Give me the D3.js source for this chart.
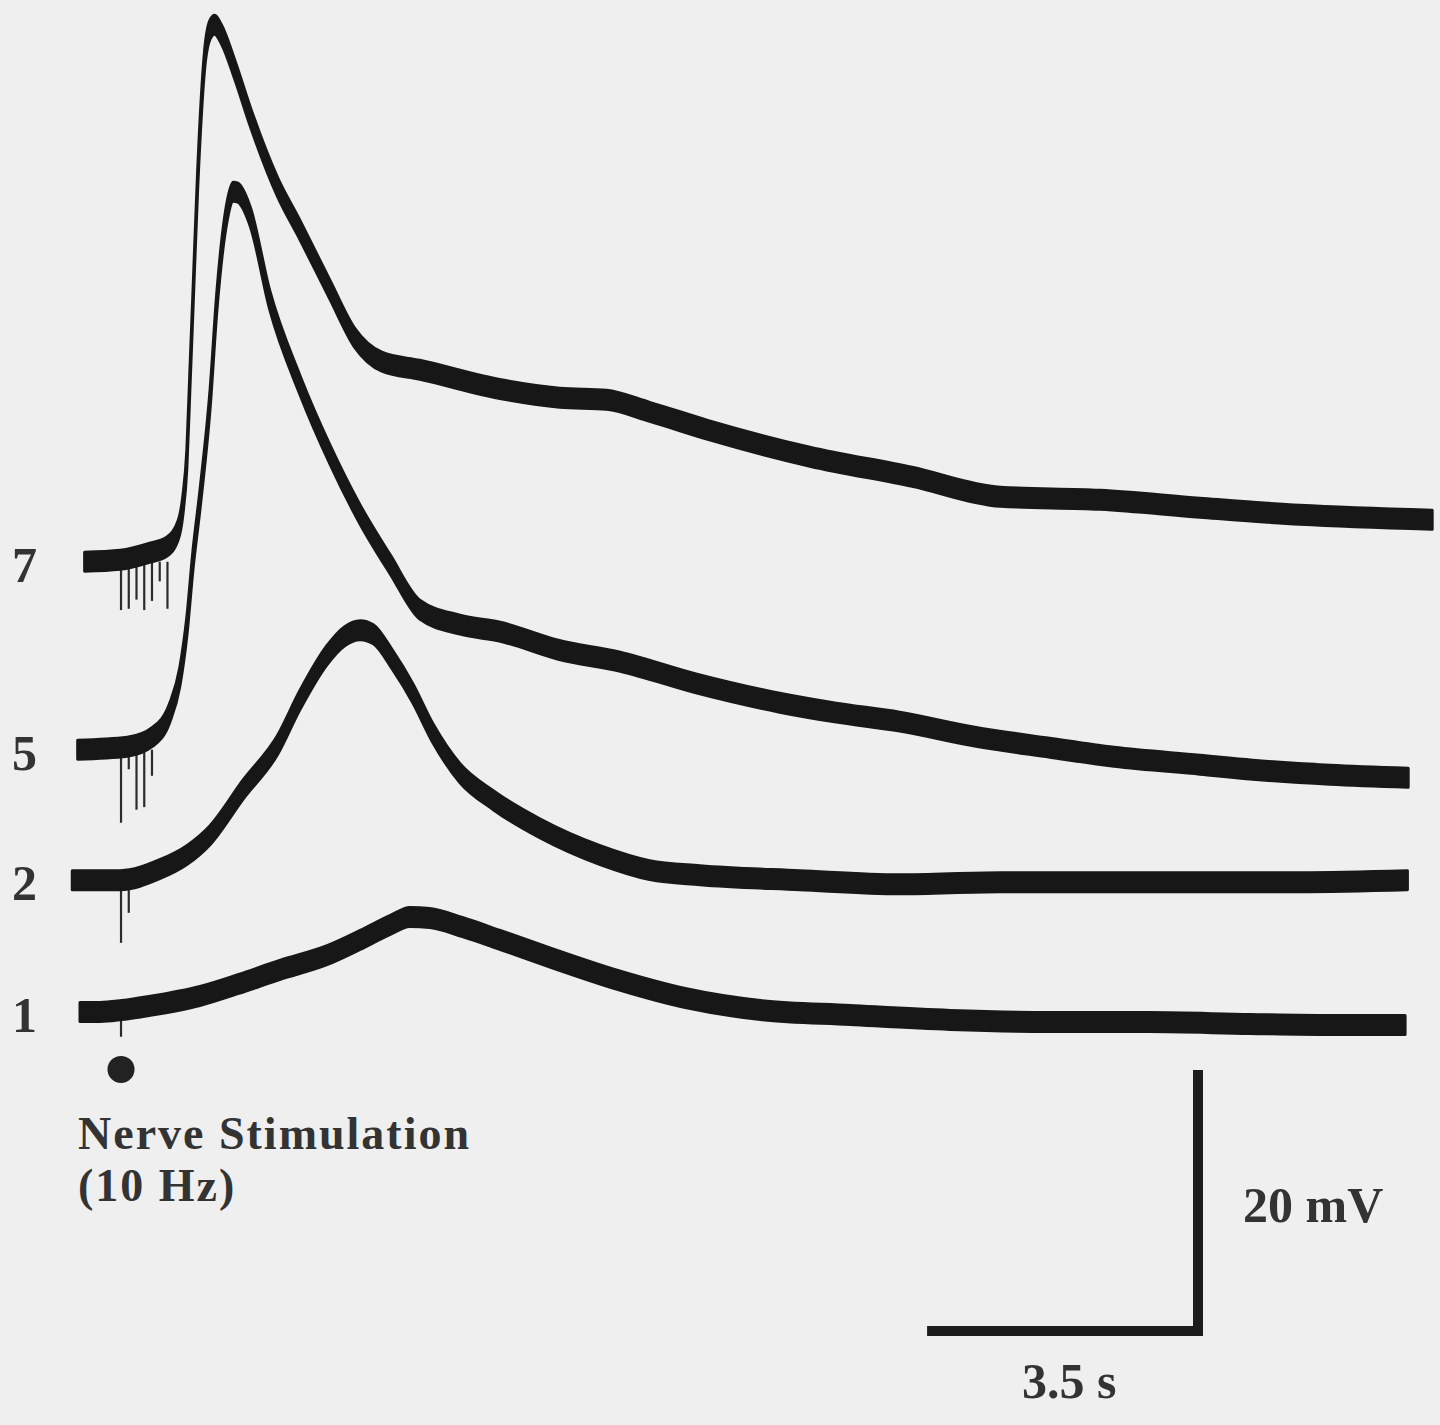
<!DOCTYPE html>
<html>
<head>
<meta charset="utf-8">
<script src="https://cdn.jsdelivr.net/npm/d3@7"></script>
<style>
  html, body { margin: 0; padding: 0; background: #efefef; }
  svg { display: block; }
</style>
</head>
<body>
<svg id="chart" width="1440" height="1425"></svg>
<script>
// membrane potential traces, [time (s), mV above resting level]
const trace1 = [[0,0],[0.26,0],[0.54,0.15],[0.89,0.46],[1.55,1.23],[2.05,2.15],[2.58,3.22],[3.2,4.37],[3.62,5.52],
  [4.01,6.67],[4.26,7.28],[4.52,7.2],[4.94,6.51],[5.43,5.52],[6.09,4.14],[6.95,2.45],[7.82,1.07],[8.79,0.15],
  [9.95,-0.23],[11.24,-0.61],[12.53,-0.77],[13.82,-0.77],[15.12,-0.92],[16.15,-1],[17.12,-1]];
const trace2 = [[-0.1,0],[0.52,0],[1.03,0.84],[1.38,1.92],[1.68,3.45],[2.11,6.97],[2.55,10.34],[2.84,13.79],
  [3.19,17.24],[3.42,18.7],[3.62,19.16],[3.79,18.85],[4.04,16.86],[4.3,14.33],[4.56,11.26],[4.91,8.2],[5.34,6.13],
  [5.94,3.98],[6.72,1.92],[7.36,0.77],[8.01,0.38],[9.3,0],[10.59,-0.31],[11.89,-0.15],[13.18,-0.15],[14.47,-0.15],
  [15.76,-0.15],[17.15,0]];
const trace5 = [[-0.03,0],[0.61,0.23],[0.94,1],[1.16,2.84],[1.29,5.59],[1.38,9.43],[1.46,14.56],[1.55,19.16],
  [1.68,26.82],[1.77,34.48],[1.9,41.23],[1.98,42.76],[2.04,42.68],[2.2,40.84],[2.45,34.48],[2.84,27.97],[3.23,22.61],
  [3.62,18.01],[4.01,14.18],[4.39,10.73],[4.91,9.58],[5.43,9.04],[6.18,7.66],[6.98,6.74],[7.97,5.06],[9.04,3.6],
  [9.77,2.84],[10.59,2.15],[11.56,1],[12.53,0.15],[13.36,-0.54],[14.47,-1.15],[15.15,-1.53],[16.15,-1.92],[17.16,-2.15]];
const trace7 = [[0.06,0],[0.52,0.15],[0.9,0.69],[1.12,1.15],[1.27,2.45],[1.33,4.37],[1.38,7.82],[1.42,13.95],
  [1.46,20.08],[1.52,29.27],[1.61,38.47],[1.68,40.77],[1.74,41.15],[1.83,40.38],[2,37.7],[2.2,34.1],[2.55,28.74],
  [2.84,25.44],[3.23,20.84],[3.55,17.16],[3.9,15.33],[4.39,14.71],[5.48,13.18],[6.2,12.57],[6.8,12.41],[7.36,11.49],
  [8.11,10.11],[9.43,8.05],[10.75,6.51],[11.89,4.98],[13.18,4.75],[14.47,4.14],[15.76,3.6],[17.47,3.22]];

const traces = [trace1, trace2, trace5, trace7];
const pulseCounts = [1, 2, 5, 7];               // number of pulses, also the trace labels
const traceOffsets = [0, 10.1, 20.1, 34.5];      // stacking offset of each trace (mV)
const artifactDepths = [[1.9], [4.8, 2.5], [5.6, 1.5, 4.6, 4.4, 2], [3.7, 3.6, 2.9, 3.7, 3, 1.5, 3.6]];
const stimStart = 0.53, pulseInterval = 0.1;     // 10 Hz
const scaleTime = 3.5, scaleVolt = 20;

const svg = d3.select("#chart");
svg.append("rect").attr("width", 1440).attr("height", 1425).attr("fill", "#efefef");

const x = d3.scaleLinear().domain([0, 17.5]).range([80, 80 + 17.5 * 77.4]);
const y = d3.scaleLinear().domain([0, 20]).range([1012, 751]);

const band = 9.5;  // half thickness of the noisy trace (px)
const ink = "#171717";

// stimulus artifacts (thin downward ticks)
traces.forEach(function(tr, i) {
  const off = traceOffsets[i];
  svg.append("g").selectAll("line")
    .data(artifactDepths[i]).enter()
    .append("line")
      .attr("x1", (d, k) => x(stimStart + k * pulseInterval))
      .attr("x2", (d, k) => x(stimStart + k * pulseInterval))
      .attr("y1", y(off))
      .attr("y2", d => y(off - d))
      .attr("stroke", "#2b2b2b")
      .attr("stroke-width", 2.2);
});

// traces
const area = d3.area()
  .curve(d3.curveMonotoneX)
  .x(d => x(d[0]))
  .y0(d => y(d[2] + d[1]) + band)
  .y1(d => y(d[2] + d[1]) - band);

traces.forEach(function(tr, i) {
  const pts = tr.map(d => [d[0], d[1], traceOffsets[i]]);
  svg.append("path")
    .datum(pts)
    .attr("d", area)
    .attr("fill", ink)
    .attr("stroke", ink)
    .attr("stroke-width", 3)
    .attr("stroke-linejoin", "round");
});

const font = "'Liberation Serif', 'Times New Roman', serif";
const txt = "#333";

// trace labels
svg.append("g").selectAll("text")
  .data(pulseCounts).enter()
  .append("text")
    .attr("x", 12)
    .attr("y", (d, i) => y(traceOffsets[i]) + 20)
    .attr("font-family", font)
    .attr("font-weight", "bold")
    .attr("font-size", 50)
    .attr("fill", txt)
    .text(d => d);

// stimulation marker
svg.append("circle")
  .attr("cx", x(stimStart))
  .attr("cy", y(-4.4))
  .attr("r", 13.5)
  .attr("fill", "#222");

svg.append("text")
  .attr("x", 78).attr("y", 1149)
  .attr("font-family", font).attr("font-weight", "bold").attr("font-size", 46)
  .attr("letter-spacing", 2).attr("fill", txt)
  .text("Nerve Stimulation");
svg.append("text")
  .attr("x", 78).attr("y", 1201)
  .attr("font-family", font).attr("font-weight", "bold").attr("font-size", 46)
  .attr("letter-spacing", 2).attr("fill", txt)
  .text("(10 Hz)");

// scale bar
const cx = 1198, cy = 1331;
const w = x(scaleTime) - x(0), h = y(0) - y(scaleVolt);
svg.append("path")
  .attr("d", "M" + (cx - w) + "," + cy + "H" + cx + "V" + (cy - h))
  .attr("fill", "none")
  .attr("stroke", "#1c1c1c")
  .attr("stroke-width", 10)
  .attr("stroke-linejoin", "miter");

svg.append("text")
  .attr("x", 1243).attr("y", 1222)
  .attr("font-family", font).attr("font-weight", "bold").attr("font-size", 50).attr("fill", txt)
  .text("20 mV");
svg.append("text")
  .attr("x", 1022).attr("y", 1398)
  .attr("font-family", font).attr("font-weight", "bold").attr("font-size", 50).attr("fill", txt)
  .text("3.5 s");
</script>
</body>
</html>
